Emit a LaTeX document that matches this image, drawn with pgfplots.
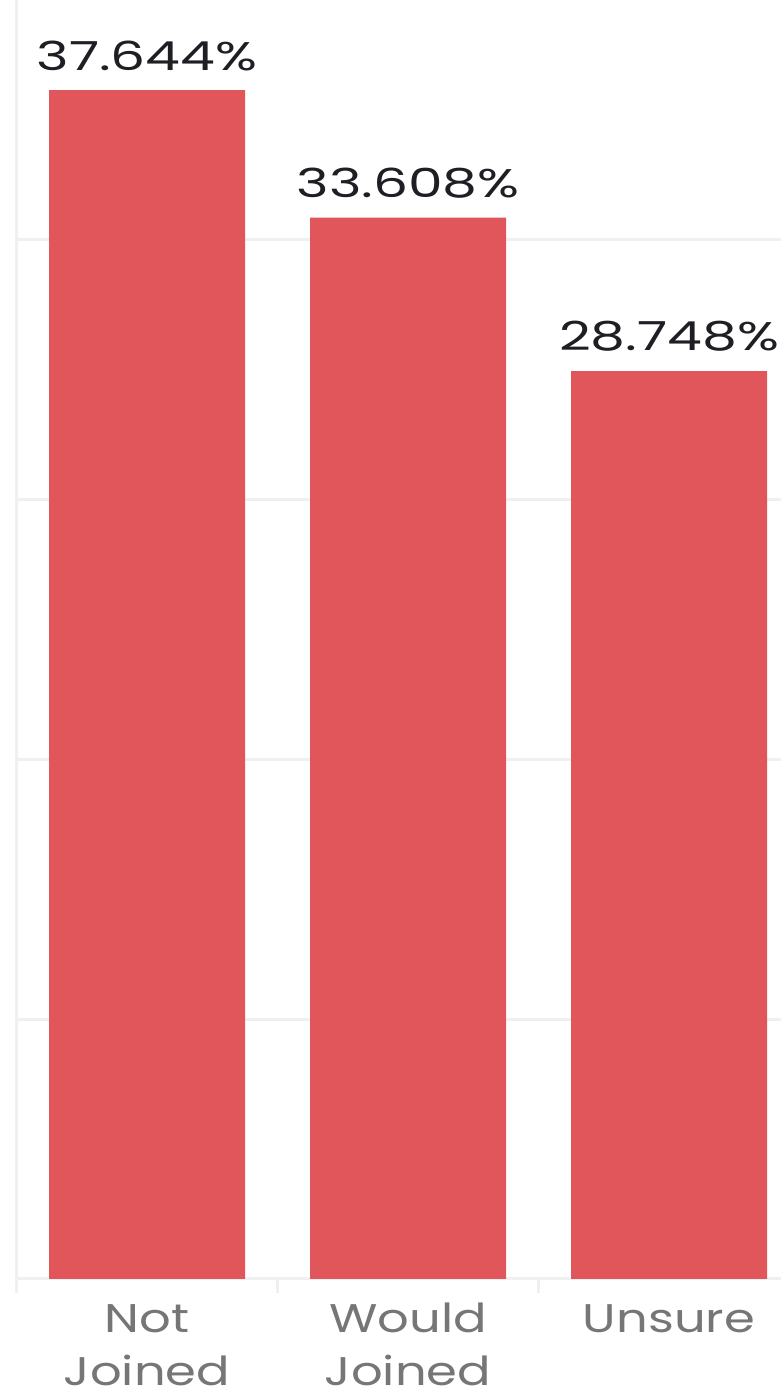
\documentclass[border=0pt]{standalone}
\usepackage{fontspec}
\setmainfont{Poppins}
\newfontfamily\valfont[FakeStretch=1.38]{Poppins}
\newfontfamily\labfont[FakeStretch=1.24]{Poppins}
\usepackage{pgfplots}
\pgfplotsset{compat=1.18}
\definecolor{barred}{RGB}{224,86,90}
\definecolor{gridc}{RGB}{240,240,240}
\definecolor{labc}{RGB}{118,118,118}
\definecolor{valc}{RGB}{30,30,36}
\begin{document}
\begin{tikzpicture}
\begin{axis}[
  at={(0pt,0pt)}, anchor=south west,
  scale only axis, width=382.25pt, height=639.5pt,
  xmin=-0.5, xmax=2.429, ymin=0, ymax=40.50,
  axis x line*=bottom, axis y line*=left,
  axis line style={gridc, line width=1.5pt},
  ybar, bar width=98pt,
  ytick={8.225,16.45,24.675,32.9}, yticklabels={},
  ymajorgrids, grid style={gridc, line width=1.5pt},
  xtick={0,1,2},
  xticklabels={{\vphantom{dN}Not\\Joined},{\vphantom{dN}Would\\Joined},{\vphantom{dN}Unsure}},
  xticklabel style={align=center, text=labc, anchor=north, inner sep=0pt, yshift=-11.7pt,
    font=\labfont\fontsize{20}{26.5}\selectfont},
  major tick length=0pt,
  tick style={gridc, line width=1.5pt},
  extra x ticks={-0.5,0.5,1.5}, extra x tick labels={},
  extra x tick style={major tick length=7pt, tick align=outside},
  nodes near coords, point meta=explicit symbolic,
  every node near coord/.append style={anchor=south, inner sep=0pt, yshift=9.5pt,
    text=valc, font=\valfont\fontsize{20}{24}\selectfont},
  clip=false,
]
\addplot[fill=barred, draw=none] coordinates {
  (0,37.644) [37.644\%]
  (1,33.608) [33.608\%]
  (2,28.748) [28.748\%]
};
\end{axis}
\pgfresetboundingbox
\path (-8.25pt,-56.5pt) rectangle (382.25pt,639.5pt);
\end{tikzpicture}
\end{document}
